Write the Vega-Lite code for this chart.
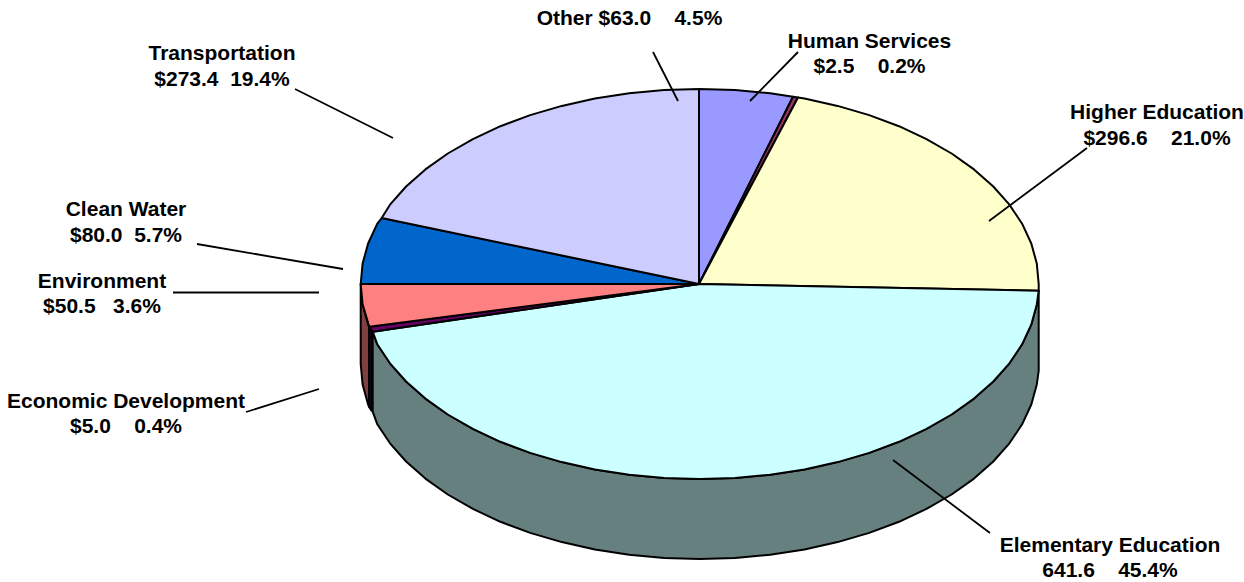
{"$schema":"https://vega.github.io/schema/vega-lite/v6.json","width":1244,"height":582,"padding":0,"autosize":{"type":"fit","contains":"padding"},"background":"white","view":{"stroke":null},
"datasets":{
"sides":[
{"s":"Elementary side","o":0,"x":1038.7,"y":290.7},{"s":"Elementary side","o":1,"x":1036.8,"y":304.4},{"s":"Elementary side","o":2,"x":1031.3,"y":324.5},{"s":"Elementary side","o":3,"x":1022.1,"y":344.3},{"s":"Elementary side","o":4,"x":1009.4,"y":363.3},{"s":"Elementary side","o":5,"x":993.3,"y":381.5},{"s":"Elementary side","o":6,"x":974.0,"y":398.6},{"s":"Elementary side","o":7,"x":951.6,"y":414.5},{"s":"Elementary side","o":8,"x":926.5,"y":428.9},{"s":"Elementary side","o":9,"x":899.0,"y":441.8},{"s":"Elementary side","o":10,"x":869.2,"y":452.9},{"s":"Elementary side","o":11,"x":837.6,"y":462.1},{"s":"Elementary side","o":12,"x":804.5,"y":469.5},{"s":"Elementary side","o":13,"x":770.2,"y":474.7},{"s":"Elementary side","o":14,"x":735.1,"y":477.9},{"s":"Elementary side","o":15,"x":699.7,"y":479},{"s":"Elementary side","o":16,"x":664.3,"y":477.9},{"s":"Elementary side","o":17,"x":629.2,"y":474.7},{"s":"Elementary side","o":18,"x":594.9,"y":469.5},{"s":"Elementary side","o":19,"x":561.8,"y":462.1},{"s":"Elementary side","o":20,"x":530.2,"y":452.9},{"s":"Elementary side","o":21,"x":500.4,"y":441.8},{"s":"Elementary side","o":22,"x":472.9,"y":428.9},{"s":"Elementary side","o":23,"x":447.8,"y":414.5},{"s":"Elementary side","o":24,"x":425.4,"y":398.6},{"s":"Elementary side","o":25,"x":406.1,"y":381.5},{"s":"Elementary side","o":26,"x":390.0,"y":363.3},{"s":"Elementary side","o":27,"x":377.3,"y":344.3},{"s":"Elementary side","o":28,"x":372.7,"y":331.7},
{"s":"Elementary side","o":29,"x":372.7,"y":411.7},{"s":"Elementary side","o":30,"x":377.3,"y":424.3},{"s":"Elementary side","o":31,"x":390.0,"y":443.3},{"s":"Elementary side","o":32,"x":406.1,"y":461.5},{"s":"Elementary side","o":33,"x":425.4,"y":478.6},{"s":"Elementary side","o":34,"x":447.8,"y":494.5},{"s":"Elementary side","o":35,"x":472.9,"y":508.9},{"s":"Elementary side","o":36,"x":500.4,"y":521.8},{"s":"Elementary side","o":37,"x":530.2,"y":532.9},{"s":"Elementary side","o":38,"x":561.8,"y":542.1},{"s":"Elementary side","o":39,"x":594.9,"y":549.5},{"s":"Elementary side","o":40,"x":629.2,"y":554.7},{"s":"Elementary side","o":41,"x":664.3,"y":557.9},{"s":"Elementary side","o":42,"x":699.7,"y":559},{"s":"Elementary side","o":43,"x":735.1,"y":557.9},{"s":"Elementary side","o":44,"x":770.2,"y":554.7},{"s":"Elementary side","o":45,"x":804.5,"y":549.5},{"s":"Elementary side","o":46,"x":837.6,"y":542.1},{"s":"Elementary side","o":47,"x":869.2,"y":532.9},{"s":"Elementary side","o":48,"x":899.0,"y":521.8},{"s":"Elementary side","o":49,"x":926.5,"y":508.9},{"s":"Elementary side","o":50,"x":951.6,"y":494.5},{"s":"Elementary side","o":51,"x":974.0,"y":478.6},{"s":"Elementary side","o":52,"x":993.3,"y":461.5},{"s":"Elementary side","o":53,"x":1009.4,"y":443.3},{"s":"Elementary side","o":54,"x":1022.1,"y":424.3},{"s":"Elementary side","o":55,"x":1031.3,"y":404.5},{"s":"Elementary side","o":56,"x":1036.8,"y":384.4},{"s":"Elementary side","o":57,"x":1038.7,"y":370.7},{"s":"Elementary side","o":58,"x":1038.7,"y":290.7},
{"s":"Economic side","o":0,"x":369,"y":326.7},{"s":"Economic side","o":1,"x":371.5,"y":331.7},{"s":"Economic side","o":2,"x":371.5,"y":410.7},{"s":"Economic side","o":3,"x":369,"y":406.7},{"s":"Economic side","o":4,"x":369,"y":326.7},
{"s":"Environment side","o":0,"x":360.7,"y":284},{"s":"Environment side","o":1,"x":362.6,"y":304.4},{"s":"Environment side","o":2,"x":368.1,"y":324.5},{"s":"Environment side","o":3,"x":369,"y":326.7},{"s":"Environment side","o":4,"x":369,"y":406.7},{"s":"Environment side","o":5,"x":368.1,"y":404.5},{"s":"Environment side","o":6,"x":362.6,"y":384.4},{"s":"Environment side","o":7,"x":360.7,"y":364},{"s":"Environment side","o":8,"x":360.7,"y":284}
],
"tops":[
{"s":"Other","o":0,"x":699,"y":284},{"s":"Other","o":1,"x":699,"y":89},{"s":"Other","o":2,"x":735.1,"y":90.1},{"s":"Other","o":3,"x":770.2,"y":93.3},{"s":"Other","o":4,"x":793,"y":96.8},{"s":"Other","o":5,"x":699,"y":284},
{"s":"Human Services","o":0,"x":699,"y":284},{"s":"Human Services","o":1,"x":793,"y":96.8},{"s":"Human Services","o":2,"x":798,"y":97.5},{"s":"Human Services","o":3,"x":699,"y":284},
{"s":"Higher Education","o":0,"x":699,"y":284},{"s":"Higher Education","o":1,"x":798,"y":97.5},{"s":"Higher Education","o":2,"x":804.5,"y":98.5},{"s":"Higher Education","o":3,"x":837.6,"y":105.9},{"s":"Higher Education","o":4,"x":869.2,"y":115.1},{"s":"Higher Education","o":5,"x":899.0,"y":126.2},{"s":"Higher Education","o":6,"x":926.5,"y":139.1},{"s":"Higher Education","o":7,"x":951.6,"y":153.5},{"s":"Higher Education","o":8,"x":974.0,"y":169.4},{"s":"Higher Education","o":9,"x":993.3,"y":186.5},{"s":"Higher Education","o":10,"x":1009.4,"y":204.7},{"s":"Higher Education","o":11,"x":1022.1,"y":223.7},{"s":"Higher Education","o":12,"x":1031.3,"y":243.5},{"s":"Higher Education","o":13,"x":1036.8,"y":263.6},{"s":"Higher Education","o":14,"x":1038.7,"y":284},{"s":"Higher Education","o":15,"x":1038.7,"y":290.7},{"s":"Higher Education","o":16,"x":699,"y":284},
{"s":"Elementary Education","o":0,"x":699,"y":284},{"s":"Elementary Education","o":1,"x":1038.7,"y":290.7},{"s":"Elementary Education","o":2,"x":1036.8,"y":304.4},{"s":"Elementary Education","o":3,"x":1031.3,"y":324.5},{"s":"Elementary Education","o":4,"x":1022.1,"y":344.3},{"s":"Elementary Education","o":5,"x":1009.4,"y":363.3},{"s":"Elementary Education","o":6,"x":993.3,"y":381.5},{"s":"Elementary Education","o":7,"x":974.0,"y":398.6},{"s":"Elementary Education","o":8,"x":951.6,"y":414.5},{"s":"Elementary Education","o":9,"x":926.5,"y":428.9},{"s":"Elementary Education","o":10,"x":899.0,"y":441.8},{"s":"Elementary Education","o":11,"x":869.2,"y":452.9},{"s":"Elementary Education","o":12,"x":837.6,"y":462.1},{"s":"Elementary Education","o":13,"x":804.5,"y":469.5},{"s":"Elementary Education","o":14,"x":770.2,"y":474.7},{"s":"Elementary Education","o":15,"x":735.1,"y":477.9},{"s":"Elementary Education","o":16,"x":699.7,"y":479},{"s":"Elementary Education","o":17,"x":664.3,"y":477.9},{"s":"Elementary Education","o":18,"x":629.2,"y":474.7},{"s":"Elementary Education","o":19,"x":594.9,"y":469.5},{"s":"Elementary Education","o":20,"x":561.8,"y":462.1},{"s":"Elementary Education","o":21,"x":530.2,"y":452.9},{"s":"Elementary Education","o":22,"x":500.4,"y":441.8},{"s":"Elementary Education","o":23,"x":472.9,"y":428.9},{"s":"Elementary Education","o":24,"x":447.8,"y":414.5},{"s":"Elementary Education","o":25,"x":425.4,"y":398.6},{"s":"Elementary Education","o":26,"x":406.1,"y":381.5},{"s":"Elementary Education","o":27,"x":390.0,"y":363.3},{"s":"Elementary Education","o":28,"x":377.3,"y":344.3},{"s":"Elementary Education","o":29,"x":372.7,"y":331.7},{"s":"Elementary Education","o":30,"x":699,"y":284},
{"s":"Economic Development","o":0,"x":699,"y":284},{"s":"Economic Development","o":1,"x":372.7,"y":331.7},{"s":"Economic Development","o":2,"x":369.3,"y":326.7},{"s":"Economic Development","o":3,"x":699,"y":284},
{"s":"Environment","o":0,"x":699,"y":284},{"s":"Environment","o":1,"x":369.3,"y":326.7},{"s":"Environment","o":2,"x":362.6,"y":304.4},{"s":"Environment","o":3,"x":360.7,"y":284},{"s":"Environment","o":4,"x":699,"y":284},
{"s":"Clean Water","o":0,"x":699,"y":284},{"s":"Clean Water","o":1,"x":360.7,"y":284},{"s":"Clean Water","o":2,"x":362.6,"y":263.6},{"s":"Clean Water","o":3,"x":368.1,"y":243.5},{"s":"Clean Water","o":4,"x":377.3,"y":223.7},{"s":"Clean Water","o":5,"x":381.7,"y":218},{"s":"Clean Water","o":6,"x":699,"y":284},
{"s":"Transportation","o":0,"x":699,"y":284},{"s":"Transportation","o":1,"x":381.7,"y":218},{"s":"Transportation","o":2,"x":390.0,"y":204.7},{"s":"Transportation","o":3,"x":406.1,"y":186.5},{"s":"Transportation","o":4,"x":425.4,"y":169.4},{"s":"Transportation","o":5,"x":447.8,"y":153.5},{"s":"Transportation","o":6,"x":472.9,"y":139.1},{"s":"Transportation","o":7,"x":500.4,"y":126.2},{"s":"Transportation","o":8,"x":530.2,"y":115.1},{"s":"Transportation","o":9,"x":561.8,"y":105.9},{"s":"Transportation","o":10,"x":594.9,"y":98.5},{"s":"Transportation","o":11,"x":629.2,"y":93.3},{"s":"Transportation","o":12,"x":664.3,"y":90.1},{"s":"Transportation","o":13,"x":699,"y":89},{"s":"Transportation","o":14,"x":699,"y":284}
],
"leaders":[
{"s":"Other","x":653,"y":52,"x2":678,"y2":101},
{"s":"Human Services","x":798,"y":52,"x2":750,"y2":101},
{"s":"Higher Education","x":1087,"y":148,"x2":989,"y2":221},
{"s":"Elementary Education","x":893,"y":460,"x2":990,"y2":533},
{"s":"Economic Development","x":246,"y":412,"x2":319,"y2":389},
{"s":"Environment","x":173,"y":292.5,"x2":319,"y2":292.5},
{"s":"Clean Water","x":197,"y":244,"x2":343,"y2":269},
{"s":"Transportation","x":295,"y":89,"x2":393,"y2":138}
],
"labels":[
{"t":"Other $63.0\u00a0\u00a0\u00a0\u00a04.5%","x":629.5,"y":25},
{"t":"Human Services","x":869.5,"y":48},
{"t":"$2.5\u00a0\u00a0\u00a0\u00a00.2%","x":869.5,"y":73},
{"t":"Higher Education","x":1157,"y":119},
{"t":"$296.6\u00a0\u00a0\u00a0\u00a021.0%","x":1157,"y":145},
{"t":"Transportation","x":222,"y":60},
{"t":"$273.4\u00a0\u00a019.4%","x":222,"y":86},
{"t":"Clean Water","x":126,"y":216},
{"t":"$80.0\u00a0\u00a05.7%","x":126,"y":242},
{"t":"Environment","x":102,"y":288},
{"t":"$50.5\u00a0\u00a0\u00a03.6%","x":102,"y":313},
{"t":"Economic Development","x":126,"y":408},
{"t":"$5.0\u00a0\u00a0\u00a0\u00a00.4%","x":126,"y":433},
{"t":"Elementary Education","x":1110,"y":552},
{"t":"641.6\u00a0\u00a0\u00a0\u00a045.4%","x":1110,"y":577}
]},
"encoding":{
"x":{"field":"x","type":"quantitative","axis":null,"scale":{"domain":[0,1244],"nice":false,"zero":false}},
"y":{"field":"y","type":"quantitative","axis":null,"scale":{"domain":[0,582],"nice":false,"zero":false,"reverse":true}}
},
"resolve":{"scale":{"fill":"independent"}},
"layer":[
{"data":{"name":"sides"},"mark":{"type":"line","stroke":"black","strokeWidth":2,"strokeJoin":"round","clip":false},
"encoding":{"detail":{"field":"s"},"order":{"field":"o","type":"quantitative"},
"fill":{"field":"s","type":"nominal","legend":null,"scale":{"domain":["Elementary side","Economic side","Environment side"],"range":["#668080","#330033","#804040"]}}}},
{"data":{"name":"tops"},"mark":{"type":"line","stroke":"black","strokeWidth":2,"strokeJoin":"round","clip":false},
"encoding":{"detail":{"field":"s"},"order":{"field":"o","type":"quantitative"},
"fill":{"field":"s","type":"nominal","legend":null,"scale":{"domain":["Other","Human Services","Higher Education","Elementary Education","Economic Development","Environment","Clean Water","Transportation"],"range":["#9999FF","#993366","#FFFFCC","#CCFFFF","#660066","#FF8080","#0066CC","#CCCCFF"]}}}},
{"data":{"name":"leaders"},"mark":{"type":"rule","stroke":"black","strokeWidth":1.8},"encoding":{"x2":{"field":"x2"},"y2":{"field":"y2"}}},
{"data":{"name":"labels"},"mark":{"type":"text","font":"Liberation Sans","fontWeight":"bold","fontSize":21,"align":"center","baseline":"alphabetic","fill":"black"},"encoding":{"text":{"field":"t","type":"nominal"}}}
]}
